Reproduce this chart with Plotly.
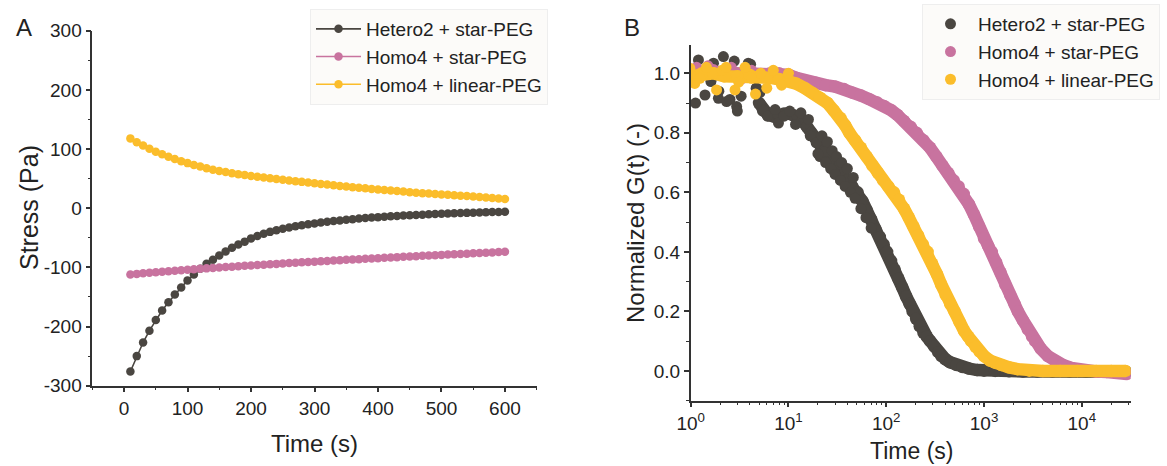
import plotly.graph_objects as go

W, H = 1167, 466

# ---------------- Panel A data (stress relaxation, Pa) ----------------
time_a = list(range(10, 601, 10))
hetero2_star_a = [-276, -250, -227, -207, -189, -173, -159, -146, -134, -122,
                  -112, -102.5, -94, -87, -80, -73, -67, -61.5, -56.5, -51,
                  -47, -43.3, -40, -37.2, -34.8, -32.6, -30.6, -28.8, -27.2, -25.7,
                  -24.3, -23, -21.8, -20.7, -19.6, -18.6, -17.6, -16.7, -15.9, -15.1,
                  -14.4, -13.7, -13.1, -12.5, -11.9, -11.4, -10.9, -10.4, -9.9, -9.5,
                  -9.1, -8.7, -8.3, -7.9, -7.6, -7.2, -6.9, -6.6, -6.3, -6.0]
homo4_star_a = [-112.0, -111.0, -110.1, -109.2, -108.3, -107.4, -106.5, -105.6, -104.8, -104.0,
                -103.2, -102.4, -101.7, -101.0, -100.2, -99.5, -98.8, -98.1, -97.4, -96.7,
                -96.0, -95.4, -94.7, -94.1, -93.4, -92.8, -92.1, -91.5, -90.9, -90.3,
                -89.7, -89.1, -88.5, -87.9, -87.3, -86.7, -86.1, -85.5, -85.0, -84.4,
                -83.8, -83.3, -82.7, -82.2, -81.6, -81.1, -80.5, -80.0, -79.4, -78.9,
                -78.4, -77.9, -77.3, -76.8, -76.3, -75.8, -75.2, -74.7, -74.2, -73.7]
homo4_linear_a = [118, 111.5, 106, 100.5, 95.5, 91, 86.8, 83, 79.5, 76.2,
                  73.2, 70.4, 67.6, 65, 63, 61, 59.2, 57.5, 56, 54.5,
                  53.1, 51.8, 50.5, 49.2, 48, 46.8, 45.6, 44.5, 43.3, 42.1,
                  41, 39.9, 38.8, 37.7, 36.6, 35.6, 34.6, 33.6, 32.6, 31.7,
                  30.8, 29.9, 29, 28.1, 27.1, 26.2, 25.4, 24.7, 24, 23.3,
                  22.6, 21.9, 21.2, 20.5, 19.7, 18.9, 18.1, 17.2, 16.4, 15.5]
ya_tickvals = [-300, -200, -100, 0, 100, 200, 300]
ya_ticktext = ["-300", "-200", "-100", "0", "100", "200", "300"]

# ---------------- Panel B data (normalized G(t)) ----------------
hetero2_t = [5.0, 5.5, 6.2, 7.0, 8.0, 9.0, 10, 11, 12.5, 14, 15.5, 17, 19, 21, 23.5, 26, 29, 32, 36, 40,
             45, 51, 57, 63, 70, 78, 86, 94, 102, 112, 122, 133, 146, 160, 173, 186, 202, 220, 240, 260,
             282, 310, 340, 365, 400, 450, 522, 600, 700, 850, 1000, 1300, 1800, 2500, 3500, 5000, 7500,
             11000, 16000, 22000, 28500]
hetero2_g = [0.90, 0.875, 0.86, 0.855, 0.86, 0.865, 0.865, 0.86, 0.855, 0.84, 0.82, 0.80, 0.78, 0.76, 0.74,
             0.72, 0.70, 0.68, 0.66, 0.64, 0.62, 0.60, 0.57, 0.54, 0.51, 0.475, 0.45, 0.425, 0.40, 0.37,
             0.34, 0.31, 0.28, 0.25, 0.225, 0.20, 0.175, 0.15, 0.128, 0.115, 0.10, 0.082, 0.063, 0.05,
             0.04, 0.029, 0.02, 0.013, 0.008, 0.003, 0.001, 0.0, -0.001, -0.002, -0.002, -0.002, -0.002,
             -0.002, -0.002, -0.003, -0.003]
homo4_star_t = [1.0, 1.3, 1.7, 2.2, 3.0, 4.0, 5.0, 6.5, 8.0, 10, 12, 15, 19, 24, 30, 37, 45, 55, 67, 80,
                95, 112, 130, 152, 178, 205, 240, 280, 325, 375, 430, 490, 550, 620, 700, 790, 890, 1000,
                1100, 1200, 1330, 1480, 1650, 1850, 2050, 2220, 2500, 2800, 3100, 3330, 3800, 4500, 5300,
                6400, 7800, 9500, 11000, 14000, 18000, 23000, 28000, 29000]
homo4_star_g = [1.0, 1.005, 1.01, 1.005, 1.0, 1.0, 0.995, 1.0, 1.0, 0.995, 0.985, 0.975, 0.968, 0.96,
                0.955, 0.947, 0.935, 0.925, 0.913, 0.903, 0.89, 0.876, 0.86, 0.84, 0.82, 0.80, 0.775,
                0.75, 0.72, 0.69, 0.665, 0.64, 0.62, 0.595, 0.56, 0.525, 0.485, 0.445, 0.42, 0.40, 0.365,
                0.33, 0.29, 0.255, 0.225, 0.20, 0.17, 0.14, 0.115, 0.10, 0.075, 0.05, 0.033, 0.02, 0.01,
                0.004, 0.001, -0.002, -0.004, -0.006, -0.008, -0.01]
homo4_linear_t = [1.0, 1.3, 1.7, 2.2, 3.0, 4.0, 5.0, 6.5, 8.0, 10, 12, 14.7, 17.5, 21, 25, 29, 34, 38, 42,
                  48, 55, 63, 72, 82, 93, 105, 120, 135, 152, 170, 190, 212, 237, 265, 295, 330, 365, 405,
                  450, 500, 560, 625, 690, 740, 820, 900, 1000, 1150, 1300, 1500, 1800, 2200, 2900, 4000,
                  6000, 9000, 14000, 20000, 28000]
homo4_linear_g = [0.99, 1.0, 1.0, 0.99, 0.99, 0.995, 0.99, 0.985, 0.98, 0.975, 0.965, 0.95, 0.935, 0.918,
                  0.90, 0.875, 0.85, 0.825, 0.80, 0.775, 0.75, 0.72, 0.69, 0.665, 0.64, 0.62, 0.60, 0.575,
                  0.545, 0.515, 0.485, 0.455, 0.425, 0.40, 0.36, 0.325, 0.29, 0.255, 0.225, 0.20, 0.165,
                  0.135, 0.115, 0.10, 0.08, 0.065, 0.05, 0.035, 0.027, 0.02, 0.012, 0.006, 0.001, 0.0, 0.0,
                  0.0, 0.0, 0.0, 0.0]
# scattered (noisy) points
hetero2_noise_t = [1.12, 1.2, 1.4, 1.61, 1.62, 1.71, 1.92, 1.94, 2.16, 2.33, 2.52, 2.79, 2.95, 3.0, 3.28,
                   3.88, 4.1, 4.67, 4.73, 5.1, 5.56, 6.1, 7.3, 7.9, 9.0, 10.3, 11.8, 13.4, 16.0, 16.7,
                   19.2, 21, 23.9, 26, 29.8,
                   20, 22, 24, 25, 27, 28, 30, 31, 34, 35, 38, 40, 43, 46, 48, 55, 62, 70]
hetero2_noise_g = [0.90, 1.045, 0.927, 0.972, 0.98, 1.034, 0.916, 0.94, 1.056, 0.905, 0.912, 1.041, 0.888,
                   0.873, 0.923, 1.034, 1.03, 0.95, 0.95, 0.935, 0.873, 0.856, 0.878, 0.833, 0.856, 0.873,
                   0.828, 0.867, 0.845, 0.79, 0.766, 0.72, 0.738, 0.70, 0.664,
                   0.73, 0.79, 0.70, 0.77, 0.68, 0.74, 0.66, 0.72, 0.64, 0.70, 0.62, 0.68, 0.60, 0.65,
                   0.58, 0.545, 0.515, 0.48]
homo4_star_noise_t = [1.0, 1.15, 1.5, 2.0, 2.6, 3.3, 4.2, 5.5]
homo4_star_noise_g = [1.0, 1.02, 1.025, 0.995, 1.02, 0.98, 1.01, 0.985]
homo4_linear_noise_t = [0.98, 1.1, 1.24, 1.45, 1.84, 2.1, 2.3, 2.84, 3.1, 3.6, 4.2, 4.6, 5.2, 6.0, 7.0, 8.5, 10]
homo4_linear_noise_g = [1.017, 0.966, 0.983, 1.02, 0.944, 1.01, 1.02, 0.944, 0.97, 1.02, 0.983, 0.93, 1.0,
                        0.95, 1.01, 0.96, 1.0]

names = ["Hetero2 + star-PEG", "Homo4 + star-PEG", "Homo4 + linear-PEG"]
colors = ["#4a4641", "#c8739f", "#fbbd2b"]

x2_tickvals = [1, 10, 100, 1000, 10000]
x2_ticktext = ["10<sup>0</sup>", "10<sup>1</sup>", "10<sup>2</sup>", "10<sup>3</sup>", "10<sup>4</sup>"]
x2_minor = [m * d for d in [1, 10, 100, 1000, 10000] for m in range(2, 10) if m * d <= 31000]

FONT = "Liberation Sans, Arial, sans-serif"
TXT = "#222222"
AX = "#333333"

fig = go.Figure()

for yv, nm, c in zip([hetero2_star_a, homo4_star_a, homo4_linear_a], names, colors):
    fig.add_trace(go.Scatter(x=time_a, y=yv, name=nm, mode="lines+markers",
                             line=dict(color=c, width=1.6),
                             marker=dict(color=c, size=8.5),
                             xaxis="x", yaxis="y", legend="legend"))

bands = [(hetero2_t, hetero2_g, hetero2_noise_t, hetero2_noise_g),
         (homo4_star_t, homo4_star_g, homo4_star_noise_t, homo4_star_noise_g),
         (homo4_linear_t, homo4_linear_g, homo4_linear_noise_t, homo4_linear_noise_g)]
for (bt, bg, nt, ng), nm, c in zip(bands, names, colors):
    fig.add_trace(go.Scatter(x=bt, y=bg, mode="lines+markers", showlegend=False,
                             line=dict(color=c, width=12.5), marker=dict(color=c, size=12.5),
                             xaxis="x2", yaxis="y2", legend="legend2", hoverinfo="skip"))
    fig.add_trace(go.Scatter(x=nt, y=ng, mode="markers", name=nm,
                             marker=dict(color=c, size=11),
                             xaxis="x2", yaxis="y2", legend="legend2"))

axis_common = dict(showline=True, linecolor=AX, linewidth=1.5, ticks="outside", ticklen=5,
                   tickwidth=1.5, tickcolor=AX, showgrid=False, zeroline=False, automargin=False,
                   tickfont=dict(family=FONT, size=19, color=TXT))
minor_common = dict(ticks="outside", ticklen=3, tickcolor=AX, tickwidth=1.3)


def label(text, x, y, size=24, angle=0):
    return dict(text=text, x=x / W, y=1 - y / H, xref="paper", yref="paper", showarrow=False,
                xanchor="center", yanchor="middle", textangle=angle,
                font=dict(size=size, family=FONT, color=TXT))


fig.update_layout(
    template="none",
    width=W, height=H,
    margin=dict(l=0, r=0, t=0, b=0, pad=0, autoexpand=False),
    paper_bgcolor="white", plot_bgcolor="white",
    font=dict(family=FONT, color=TXT),
    xaxis=dict(domain=[92.3 / W, 536.7 / W], anchor="y", range=[-50, 650], tick0=0, dtick=100,
               minor=dict(dtick=50, **minor_common), **axis_common),
    yaxis=dict(domain=[(H - 385.7) / H, (H - 30.7) / H], anchor="x", range=[-300, 300],
               tickmode="array", tickvals=ya_tickvals, ticktext=ya_ticktext,
               minor=dict(tickmode="linear", tick0=0, dtick=50, **minor_common), **axis_common),
    xaxis2=dict(domain=[690.7 / W, 1130.7 / W], anchor="y2", type="log", range=[0, 4.5],
                tickmode="array", tickvals=x2_tickvals, ticktext=x2_ticktext,
                minor=dict(tickmode="array", tickvals=x2_minor, **minor_common), **axis_common),
    yaxis2=dict(domain=[(H - 400.7) / H, (H - 45) / H], anchor="x2", range=[-0.1, 1.095],
                tickmode="array", tickvals=[0, 0.2, 0.4, 0.6, 0.8, 1.0],
                ticktext=["0.0", "0.2", "0.4", "0.6", "0.8", "1.0"],
                minor=dict(tickmode="array", tickvals=[-0.1, 0.1, 0.3, 0.5, 0.7, 0.9], **minor_common),
                **axis_common),
    legend=dict(x=310 / W, y=1 - 9 / H, xanchor="left", yanchor="top",
                bgcolor="#fcfbf9", bordercolor="#eeeeee", borderwidth=1,
                font=dict(family=FONT, size=19, color=TXT), itemwidth=45, tracegroupgap=0),
    legend2=dict(x=922 / W, y=1 - 4 / H, xanchor="left", yanchor="top",
                 bgcolor="#fcfbf9", bordercolor="#eeeeee", borderwidth=1,
                 font=dict(family=FONT, size=19, color=TXT), itemwidth=45, tracegroupgap=0),
    annotations=[
        label("A", 24, 28),
        label("B", 632, 28),
        label("Stress (Pa)", 29, 208, size=25, angle=-90),
        label("Time (s)", 314, 443),
        label("Normalized G(t) (-)", 635, 223, angle=-90),
        label("Time (s)", 911, 451, size=23),
    ],
)

fig.write_html("out.html", post_script="document.body.style.margin='0px';",
               config={"displayModeBar": False})
